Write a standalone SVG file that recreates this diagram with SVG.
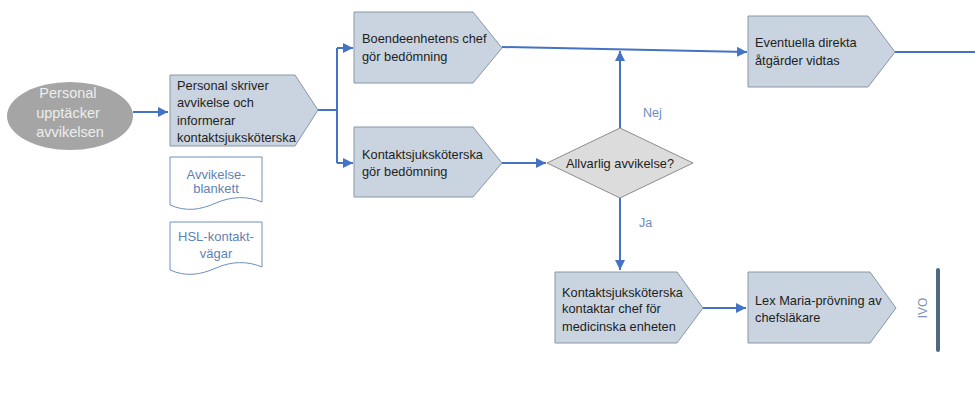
<svg xmlns="http://www.w3.org/2000/svg" width="975" height="396" viewBox="0 0 975 396">
<defs>
<style>
.step{fill:#c9d4e0;stroke:#8796a6;stroke-width:1}
.dec{fill:#dcdcdc;stroke:#8c8c8c;stroke-width:1}
.doc{fill:#ffffff;stroke:#6f8fbf;stroke-width:1}
.t{font-family:"Liberation Sans",Arial,sans-serif;font-size:12.8px;fill:#1e1e1e}
.dt{font-family:"Liberation Sans",Arial,sans-serif;font-size:13px;fill:#5f82b4;text-anchor:middle}
.lbl{font-family:"Liberation Sans",Arial,sans-serif;font-size:12.5px;fill:#6a8cc0}
.c{fill:none;stroke:#4472c4;stroke-width:2}
</style>
<marker id="ah" viewBox="0 0 10 10" refX="10" refY="5" markerWidth="5" markerHeight="5" orient="auto" markerUnits="strokeWidth">
<path d="M0,0 L10,5 L0,10 Z" fill="#4472c4"/>
</marker>
</defs>
<rect width="975" height="396" fill="#ffffff"/>

<g id="connectors">
<path class="c" d="M133,112 H168" marker-end="url(#ah)"/>
<path class="c" d="M318,110 H337"/>
<path class="c" d="M337,48 V163"/>
<path class="c" d="M337,48 H353" marker-end="url(#ah)"/>
<path class="c" d="M337,163 H353" marker-end="url(#ah)"/>
<path class="c" d="M502,47 L747,52" marker-end="url(#ah)"/>
<path class="c" d="M502,163 H546" marker-end="url(#ah)"/>
<path class="c" d="M620,128 V51" marker-end="url(#ah)"/>
<path class="c" d="M620,198 V270" marker-end="url(#ah)"/>
<path class="c" d="M703,308 H746" marker-end="url(#ah)"/>
<path class="c" d="M895,52 H975"/>
<text class="lbl" x="643" y="117">Nej</text>
<text class="lbl" x="639" y="227">Ja</text>
</g>

<g id="start">
<ellipse cx="70" cy="116" rx="63" ry="34" fill="#a5a5a5"/>
<text font-family="'Liberation Sans',Arial,sans-serif" font-size="14.5" fill="#eeeeee" text-anchor="middle">
<tspan x="70" y="98">Personal</tspan>
<tspan x="70" y="118">upptäcker</tspan>
<tspan x="70" y="137">avvikelsen</tspan>
</text>
</g>

<g id="skriver">
<polygon class="step" points="170,75 295,75 318,110 295,146 170,146"/>
<text class="t">
<tspan x="177" y="90">Personal skriver</tspan>
<tspan x="177" y="107">avvikelse och</tspan>
<tspan x="177" y="125">informerar</tspan>
<tspan x="177" y="142">kontaktsjuksköterska</tspan>
</text>
</g>

<g id="doc-avvikelse">
<path class="doc" d="M170,157 H262 V202 C248,196 232,196 216,203 C200,210 186,212 170,205 Z"/>
<text class="dt"><tspan x="216" y="179">Avvikelse-</tspan><tspan x="216" y="193">blankett</tspan></text>
</g>

<g id="doc-hsl">
<path class="doc" d="M170,222 H262 V267 C248,261 232,261 216,268 C200,275 186,277 170,270 Z"/>
<text class="dt"><tspan x="216" y="241">HSL-kontakt-</tspan><tspan x="216" y="258">vägar</tspan></text>
</g>

<g id="boende">
<polygon class="step" points="354,12 473,12 502,48 473,83 354,83"/>
<text class="t"><tspan x="362" y="43">Boendeenhetens chef</tspan><tspan x="362" y="61">gör bedömning</tspan></text>
</g>

<g id="kontakt-bedomning">
<polygon class="step" points="354,127 473,127 502,163 473,197 354,197"/>
<text class="t"><tspan x="362" y="159">Kontaktsjuksköterska</tspan><tspan x="362" y="176">gör bedömning</tspan></text>
</g>

<g id="allvarlig">
<polygon class="dec" points="547,163 620,128 693,163 620,198"/>
<text class="t" x="620" y="168" text-anchor="middle">Allvarlig avvikelse?</text>
</g>

<g id="eventuella">
<polygon class="step" points="748,16 868,16 895,52 868,87 748,87"/>
<text class="t"><tspan x="755" y="47">Eventuella direkta</tspan><tspan x="755" y="65">åtgärder vidtas</tspan></text>
</g>

<g id="kontaktar-chef">
<polygon class="step" points="555,272 677,272 703,308 677,343 555,343"/>
<text class="t"><tspan x="562" y="297">Kontaktsjuksköterska</tspan><tspan x="562" y="313">kontaktar chef för</tspan><tspan x="562" y="331">medicinska enheten</tspan></text>
</g>

<g id="lex-maria">
<polygon class="step" points="748,272 870,272 896,308 870,343 748,343"/>
<text class="t"><tspan x="755" y="305">Lex Maria-prövning av</tspan><tspan x="755" y="322">chefsläkare</tspan></text>
</g>

<g id="ivo">
<line x1="938" y1="270" x2="938" y2="350" stroke="#4f6a80" stroke-width="4" stroke-linecap="round"/>
<text font-family="'Liberation Sans',Arial,sans-serif" font-size="12" fill="#7d93ad" text-anchor="middle" transform="translate(927,308) rotate(-90)">IVO</text>
</g>
</svg>
